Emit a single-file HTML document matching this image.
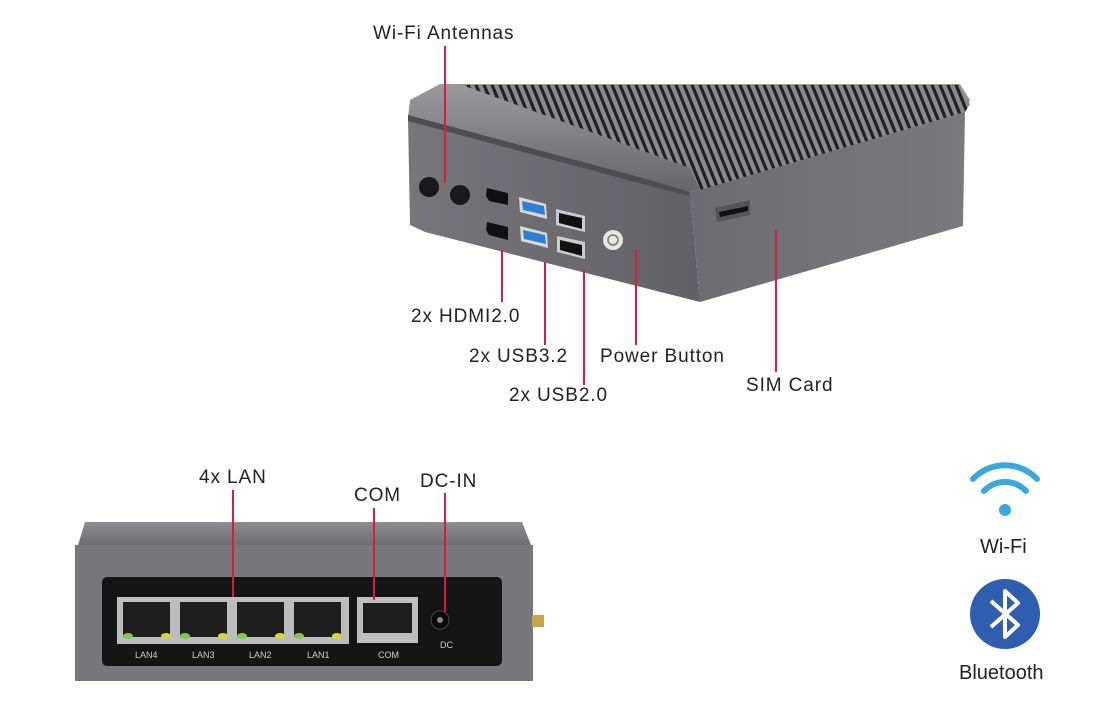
<!DOCTYPE html>
<html><head><meta charset="utf-8"><style>
html,body{margin:0;padding:0;background:#fff;width:1111px;height:727px;overflow:hidden}
svg{display:block}
text{font-family:"Liberation Sans","DejaVu Sans",sans-serif;fill:#222}
</style></head><body>
<svg width="1111" height="727" viewBox="0 0 1111 727" xmlns="http://www.w3.org/2000/svg">
<defs>
<linearGradient id="front" x1="0" y1="0" x2="1" y2="0"><stop offset="0" stop-color="#76767b"/><stop offset="1" stop-color="#606065"/></linearGradient>
<linearGradient id="side" x1="0" y1="0" x2="1" y2="0"><stop offset="0" stop-color="#6c6c71"/><stop offset="1" stop-color="#7a7a7e"/></linearGradient>
<linearGradient id="lid" x1="0" y1="0" x2="0" y2="1"><stop offset="0" stop-color="#9a9a9e"/><stop offset="1" stop-color="#66666a"/></linearGradient>
<pattern id="fins" width="8" height="200" patternUnits="userSpaceOnUse" patternTransform="skewX(22)">
<rect width="8" height="200" fill="#8a8a8e"/><rect x="0" width="3.5" height="200" fill="#222224"/></pattern>
<linearGradient id="cap" x1="0" y1="0" x2="0" y2="1"><stop offset="0" stop-color="#8d8d90"/><stop offset="1" stop-color="#6f6f73"/></linearGradient>
</defs>

<polygon points="408,118 690,192 700,302 425,232 410,225" fill="url(#front)"/>
<polygon points="690,192 965,112 963,226 700,302" fill="url(#side)"/>
<polygon points="410,100 440,84 960,84 970,100 965,112 690,192 650,182 408,118" fill="url(#lid)"/>
<polygon points="462,85 958,85 970,104 965,112 700,190 690,168" fill="url(#fins)"/>
<polygon points="408,115 650,180 690,192 690,196 650,186 408,121" fill="#4e4e52"/>
<circle cx="429" cy="187" r="10" fill="#1a1a1a"/><circle cx="460" cy="195" r="10" fill="#1a1a1a"/>
<polygon points="487,188 508,193 508,205 489,201 486,196" fill="#111"/>
<polygon points="487,222 508,227 508,240 489,235 486,230" fill="#111"/>
<polygon points="519,197 546,204 547,219 520,212" fill="#d9d9d9"/><polygon points="522,201 544,206 545,215 523,210" fill="#2f7fd4"/>
<polygon points="520,226 547,233 548,248 521,241" fill="#d9d9d9"/><polygon points="523,230 545,235 546,244 524,239" fill="#2f7fd4"/>
<polygon points="556,209 585,216 585,232 556,225" fill="#ccc"/><polygon points="559,213 582,218 582,229 559,223" fill="#111"/>
<polygon points="557,236 585,242 585,259 557,252" fill="#ccc"/><polygon points="560,240 582,245 582,256 560,250" fill="#111"/>
<circle cx="613" cy="240" r="10" fill="#e6e6e6"/><circle cx="613" cy="240" r="5" fill="none" stroke="#777" stroke-width="1.5"/>
<polygon points="715,208 750,200 750,215 717,222" fill="#555"/><polygon points="719,212 748,206 748,211 720,217" fill="#111"/>

<polygon points="78,545 85,522 522,522 531,545" fill="url(#cap)"/>
<rect x="75" y="545" width="458" height="136" fill="#78787c"/>
<rect x="102" y="577" width="400" height="89" rx="5" fill="#151515"/>
<rect x="117" y="597" width="232" height="47" fill="#bdbdbd"/>
<g fill="#1e1e1e">
<rect x="123" y="602" width="47" height="35"/><rect x="180" y="602" width="47" height="35"/><rect x="237" y="602" width="47" height="35"/><rect x="294" y="602" width="47" height="35"/>
</g>
<g fill="#7fc84a"><ellipse cx="128" cy="636" rx="5" ry="3"/><ellipse cx="185" cy="636" rx="5" ry="3"/><ellipse cx="242" cy="636" rx="5" ry="3"/><ellipse cx="299" cy="636" rx="5" ry="3"/></g>
<g fill="#d9d43a"><ellipse cx="166" cy="636" rx="5" ry="3"/><ellipse cx="223" cy="636" rx="5" ry="3"/><ellipse cx="280" cy="636" rx="5" ry="3"/><ellipse cx="337" cy="636" rx="5" ry="3"/></g>
<rect x="357" y="597" width="61" height="46" fill="#bdbdbd"/><rect x="363" y="603" width="49" height="30" fill="#1e1e1e"/>
<circle cx="440" cy="620" r="9" fill="#0a0a0a" stroke="#444"/><circle cx="440" cy="620" r="3" fill="#888"/>
<rect x="532" y="615" width="12" height="12" fill="#c9a24a"/>
<g font-size="9">
<text x="135" y="658" style="fill:#ccc">LAN4</text><text x="192" y="658" style="fill:#ccc">LAN3</text><text x="249" y="658" style="fill:#ccc">LAN2</text><text x="307" y="658" style="fill:#ccc">LAN1</text><text x="378" y="658" style="fill:#ccc">COM</text><text x="440" y="648" style="fill:#ccc">DC</text>
</g>

<g stroke="#d41f3b" stroke-width="2">
<line x1="445" y1="46" x2="445" y2="183"/>
<line x1="502" y1="250" x2="502" y2="302"/>
<line x1="545" y1="262" x2="545" y2="345"/>
<line x1="584" y1="270" x2="584" y2="385"/>
<line x1="636" y1="250" x2="636" y2="345"/>
<line x1="776" y1="230" x2="776" y2="372"/>
<line x1="233" y1="490" x2="233" y2="597"/>
<line x1="374" y1="508" x2="374" y2="600"/>
<line x1="445" y1="493" x2="445" y2="612"/>
</g>

<g font-size="19" letter-spacing="0.9">
<text x="373" y="39">Wi-Fi Antennas</text>
<text x="411" y="322">2x HDMI2.0</text>
<text x="469" y="362">2x USB3.2</text>
<text x="509" y="401">2x USB2.0</text>
<text x="600" y="362">Power Button</text>
<text x="746" y="391">SIM Card</text>
<text x="199" y="483">4x LAN</text>
<text x="354" y="501">COM</text>
<text x="420" y="487">DC-IN</text>
</g>
<text x="980" y="553" font-size="20">Wi-Fi</text>
<text x="959" y="679" font-size="20">Bluetooth</text>

<g fill="none" stroke="#3aa8de" stroke-linecap="round" stroke-width="6">
<path d="M973,479 A44,44 0 0 1 1037,479"/>
<path d="M984,491 A29,29 0 0 1 1026,491"/>
</g>
<circle cx="1005" cy="510" r="6" fill="#3aa8de"/>
<circle cx="1005" cy="614" r="35" fill="#2f5db0"/>
<polyline points="991,601 1018,625 1005,637 1005,591 1018,603 991,627" fill="none" stroke="#fff" stroke-width="4" stroke-linejoin="round"/>
</svg>
</body></html>
